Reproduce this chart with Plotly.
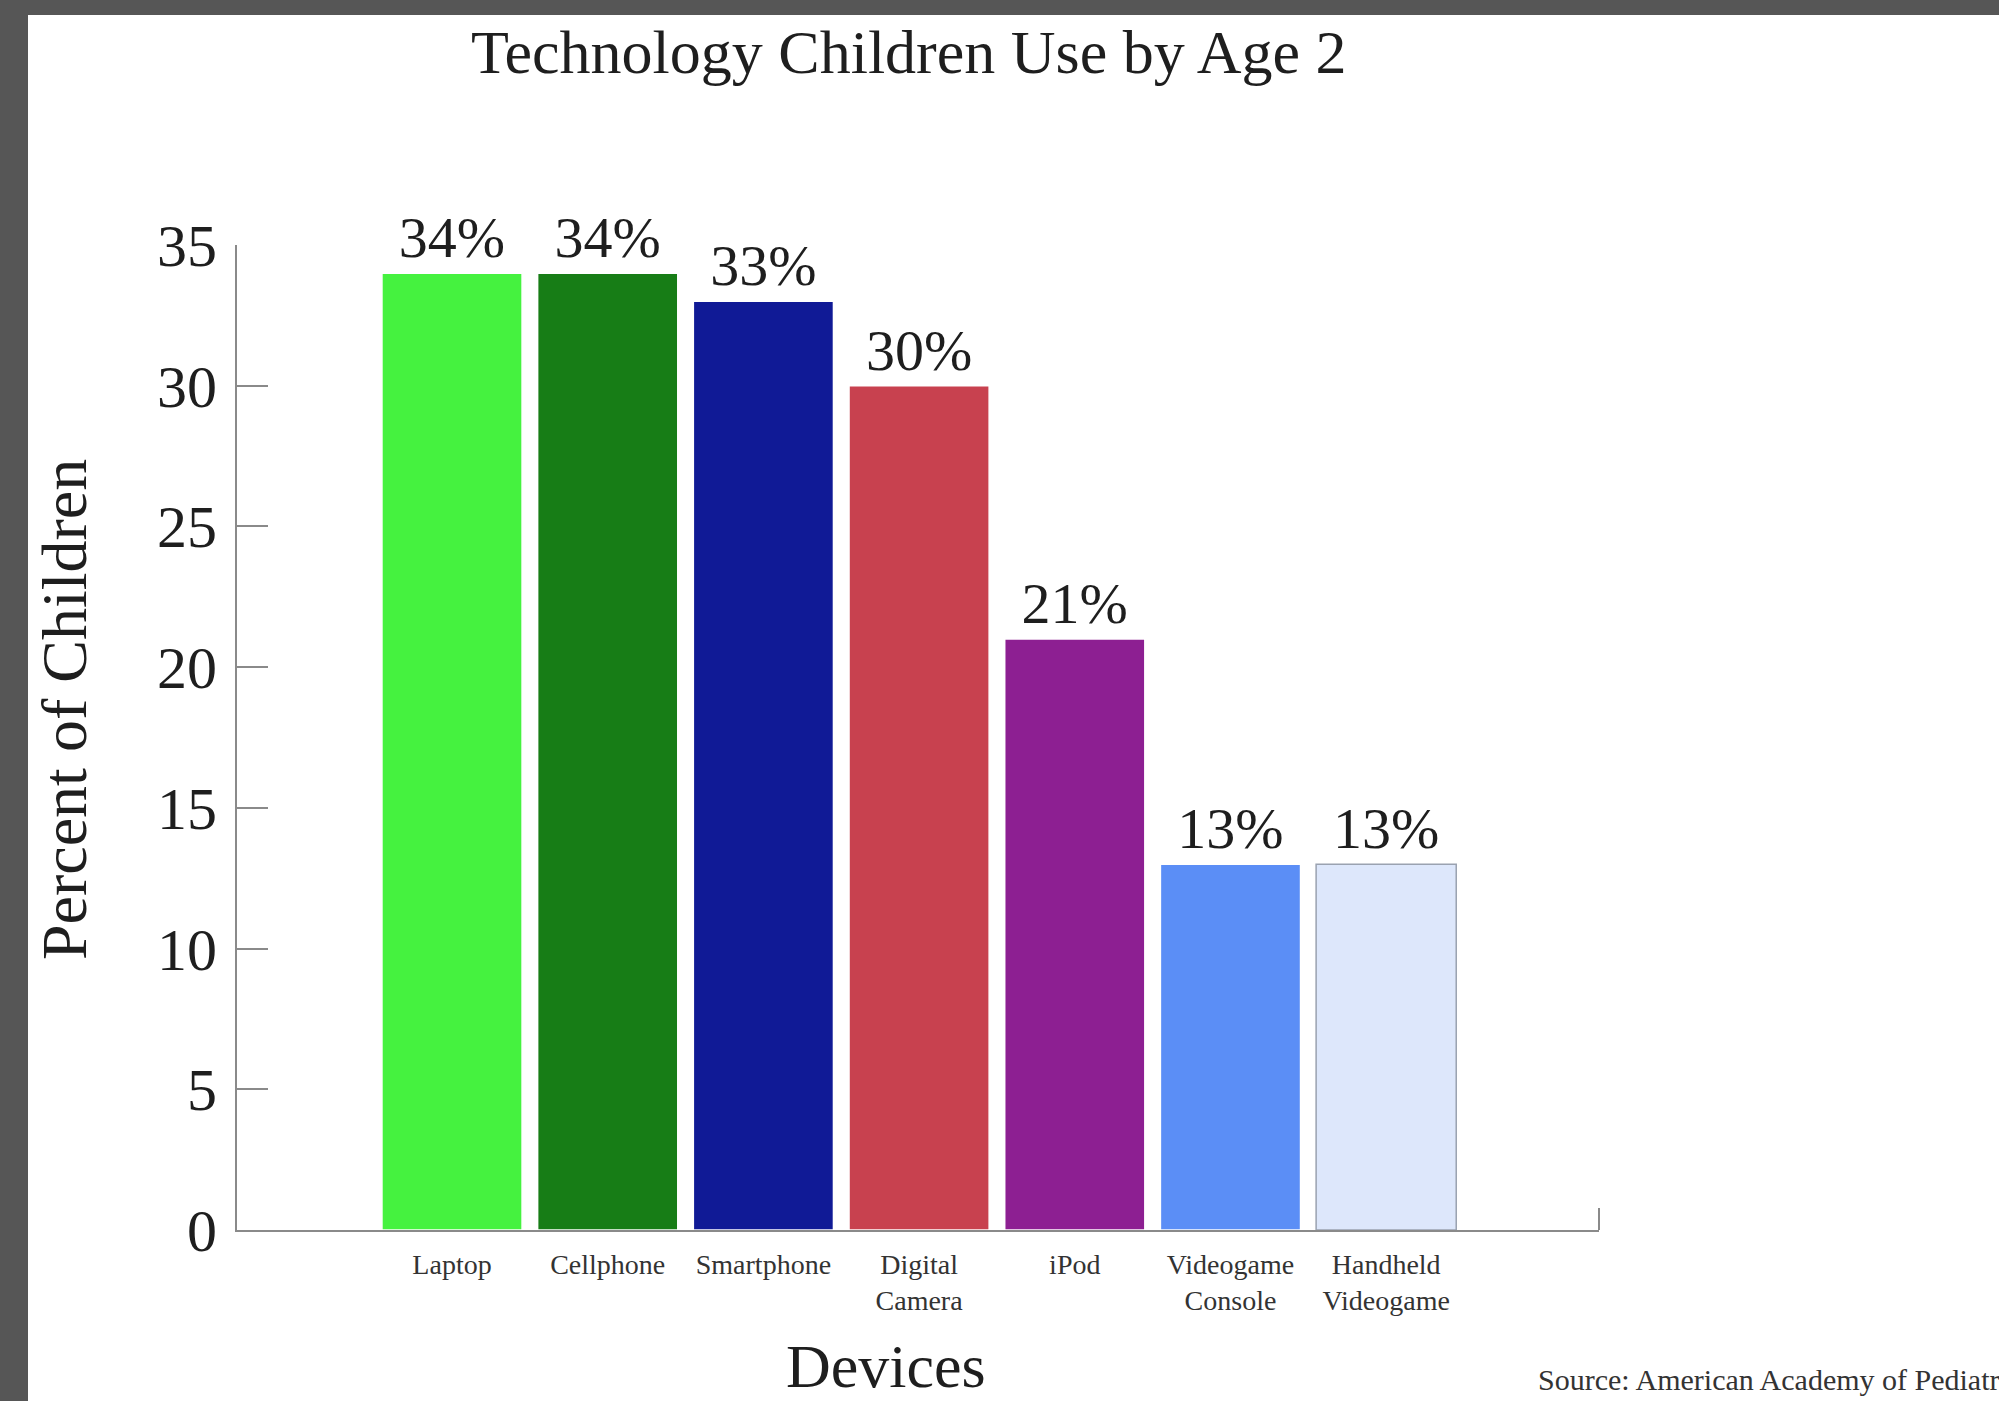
import plotly.graph_objects as go

# ---- data ----
categories = ["Laptop", "Cellphone", "Smartphone", "Digital Camera", "iPod",
              "Videogame Console", "Handheld Videogame"]
tick_labels = ["Laptop", "Cellphone", "Smartphone", "Digital<br>Camera", "iPod",
               "Videogame<br>Console", "Handheld<br>Videogame"]
percent_children = [34, 34, 33, 30, 21, 13, 13]
bar_labels = ["34%", "34%", "33%", "30%", "21%", "13%", "13%"]
bar_colors = ["#45f23f", "#177d16", "#101a96", "#c8414f", "#8d1f92",
              "#5b8ef6", "#dde7fb"]
bar_line_colors = ["#ffffff", "#ffffff", "#ffffff", "#ffffff", "#ffffff",
                   "#ffffff", "#9aa2b0"]
y_ticks = [0, 5, 10, 15, 20, 25, 30, 35]

# ---- geometry (reference pixels) ----
W, H = 1999, 1401
L, R, T, B = 237, 1599, 245, 1230   # plot area


def px(x):
    return (x - L) / (R - L)


def py(y):
    return (B - y) / (B - T)


FONT = "Liberation Serif"
TXT = "#1e1e1e"
AX = "#8a8a8a"

fig = go.Figure()
fig.add_trace(go.Bar(
    x=categories,
    y=percent_children,
    text=bar_labels,
    textposition="outside",
    textfont=dict(family=FONT, size=58, color=TXT),
    cliponaxis=False,
    marker=dict(color=bar_colors, line=dict(color=bar_line_colors, width=1.5)),
    showlegend=False,
))

fig.update_layout(
    width=W, height=H,
    margin=dict(l=L, r=W - R, t=T, b=H - B, autoexpand=False),
    paper_bgcolor="#565656",
    plot_bgcolor="#ffffff",
    bargap=0.1,
    font=dict(family=FONT, color=TXT),
    xaxis=dict(
        type="category",
        range=[-1.381, 7.367],
        tickvals=categories,
        ticktext=tick_labels,
        tickfont=dict(family=FONT, size=28, color="#333333"),
        ticks="",
        ticklabelstandoff=8,
        showline=True, linecolor=AX, linewidth=2,
        showgrid=False, zeroline=False,
    ),
    yaxis=dict(
        range=[0, 35],
        tickvals=y_ticks,
        tickfont=dict(family=FONT, size=60, color=TXT),
        ticks="inside", ticklen=31, tickwidth=2, tickcolor=AX,
        ticklabelstandoff=6,
        showline=True, linecolor=AX, linewidth=2,
        showgrid=False, zeroline=False,
    ),
    shapes=[
        dict(type="rect", xref="paper", yref="paper", layer="below",
             x0=px(28), x1=px(W + 20), y0=py(15), y1=py(H + 20),
             fillcolor="#ffffff", line=dict(width=0)),
        dict(type="line", xref="paper", yref="paper",
             x0=1, x1=1, y0=0, y1=py(B - 22),
             line=dict(color=AX, width=2)),
    ],
    annotations=[
        dict(text="Technology Children Use by Age 2", xref="paper", yref="paper",
             x=px(909), y=py(52), xanchor="center", yanchor="middle",
             showarrow=False, font=dict(family=FONT, size=62, color=TXT)),
        dict(text="Percent of Children", xref="paper", yref="paper",
             x=px(64), y=py(710), xanchor="center", yanchor="middle",
             textangle=-90, showarrow=False,
             font=dict(family=FONT, size=64, color=TXT)),
        dict(text="Devices", xref="paper", yref="paper",
             x=px(886), y=py(1366), xanchor="center", yanchor="middle",
             showarrow=False, font=dict(family=FONT, size=62, color=TXT)),
        dict(text="Source: American Academy of Pediatrics", xref="paper", yref="paper",
             x=px(1536), y=py(1379), xanchor="left", yanchor="middle",
             showarrow=False, font=dict(family=FONT, size=30, color="#333333")),
    ],
)

fig.write_html(
    "out.html",
    config={"displayModeBar": False},
    post_script="document.body.style.margin='0';document.body.style.padding='0';"
                "document.body.style.overflow='hidden';",
)
